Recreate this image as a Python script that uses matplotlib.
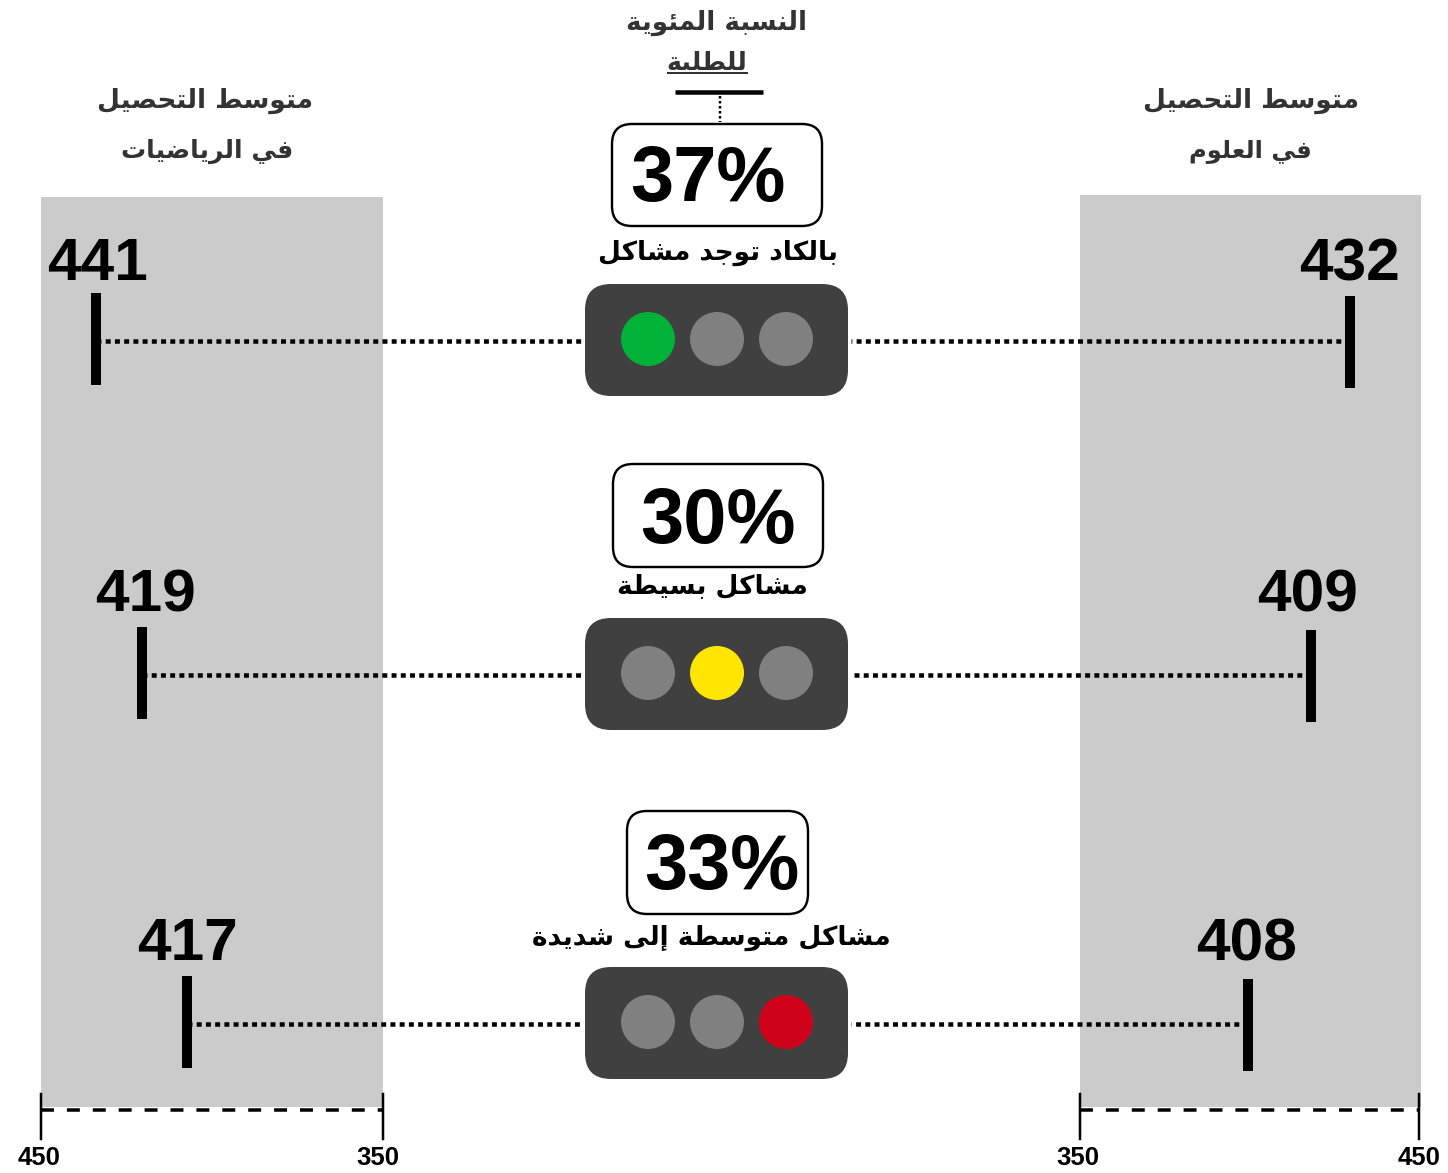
import matplotlib
matplotlib.use("Agg")
import matplotlib.pyplot as plt
from matplotlib.patches import FancyBboxPatch, Circle

# ---- data ----
math_labels = [441, 419, 417]
science_labels = [432, 409, 408]
# where the marks actually sit on each panel's 350-450 scale
math_mark_pos = [433.9, 420.5, 407.3]
science_mark_pos = [429.1, 417.6, 399.4]
percent_labels = ["37%", "30%", "33%"]
level_names = ["بالكاد توجد مشاكل", "مشاكل بسيطة", "مشاكل متوسطة إلى شديدة"]
active_light = [0, 1, 2]
light_colors = ["#00B336", "#FFE600", "#D0021B"]
scale_ticks = [450, 350]
header_center = ["النسبة المئوية", "للطلبة"]
header_math = ["متوسط التحصيل", "في الرياضيات"]
header_science = ["متوسط التحصيل", "في العلوم"]

# ---- Arabic shaping (matplotlib has none): presentation forms in visual order ----
FORMS = {
    'ا': (0xFE8D, 0xFE8E), 'إ': (0xFE87, 0xFE88), 'د': (0xFEA9, 0xFEAA), 'ر': (0xFEAD, 0xFEAE),
    'و': (0xFEED, 0xFEEE), 'ى': (0xFEEF, 0xFEF0), 'ة': (0xFE93, 0xFE94),
    'ئ': (0xFE89, 0xFE8A, 0xFE8B, 0xFE8C), 'ب': (0xFE8F, 0xFE90, 0xFE91, 0xFE92),
    'ت': (0xFE95, 0xFE96, 0xFE97, 0xFE98), 'ج': (0xFE9D, 0xFE9E, 0xFE9F, 0xFEA0),
    'ح': (0xFEA1, 0xFEA2, 0xFEA3, 0xFEA4), 'س': (0xFEB1, 0xFEB2, 0xFEB3, 0xFEB4),
    'ش': (0xFEB5, 0xFEB6, 0xFEB7, 0xFEB8), 'ص': (0xFEB9, 0xFEBA, 0xFEBB, 0xFEBC),
    'ض': (0xFEBD, 0xFEBE, 0xFEBF, 0xFEC0), 'ط': (0xFEC1, 0xFEC2, 0xFEC3, 0xFEC4),
    'ع': (0xFEC9, 0xFECA, 0xFECB, 0xFECC), 'ف': (0xFED1, 0xFED2, 0xFED3, 0xFED4),
    'ك': (0xFED9, 0xFEDA, 0xFEDB, 0xFEDC), 'ل': (0xFEDD, 0xFEDE, 0xFEDF, 0xFEE0),
    'م': (0xFEE1, 0xFEE2, 0xFEE3, 0xFEE4), 'ن': (0xFEE5, 0xFEE6, 0xFEE7, 0xFEE8),
    'ي': (0xFEF1, 0xFEF2, 0xFEF3, 0xFEF4),
}


def shape(text):
    out = []
    for i, ch in enumerate(text):
        if ch not in FORMS:
            out.append(ch)
            continue
        f = FORMS[ch]
        prev = text[i - 1] if i > 0 else ' '
        nxt = text[i + 1] if i + 1 < len(text) else ' '
        joins_prev = prev in FORMS and len(FORMS[prev]) == 4
        joins_next = len(f) == 4 and nxt in FORMS
        if joins_prev and joins_next:
            c = f[3]
        elif joins_prev:
            c = f[1]
        elif joins_next:
            c = f[2]
        else:
            c = f[0]
        out.append(chr(c))
    return ''.join(reversed(out))


W, H = 1448, 1173
fig = plt.figure(figsize=(W / 100, H / 100), dpi=100, facecolor='white')
px = 72 / 100  # points per pixel


def panel_axes(x0, x1, y0, y1, xlim, color):
    ax = fig.add_axes([x0 / W, 1 - y1 / H, (x1 - x0) / W, (y1 - y0) / H])
    ax.set_xlim(*xlim)
    ax.set_ylim(y1, y0)
    ax.set_facecolor(color)
    for s in ax.spines.values():
        s.set_visible(False)
    ax.set_xticks([])
    ax.set_yticks([])
    return ax


ax = fig.add_axes([0, 0, 1, 1], zorder=3)
ax.set_xlim(0, W)
ax.set_ylim(H, 0)
ax.axis('off')

ax_m = panel_axes(41, 383, 197, 1107, (450, 350), '#CBCBCB')
ax_s = panel_axes(1080, 1421, 195, 1107, (350, 450), '#CBCBCB')

AR = 'DejaVu Sans'
NUM = 'Liberation Sans'
mid = ax.transData.inverted()


def to_main(axis, v):
    return mid.transform(axis.transData.transform((v, 0)))[0]


rows_y = [341, 675, 1024]
light_y = [284, 618, 967]
box_geo = [(612, 822, 124, 226, 708, 180), (613, 823, 464, 567, 718, 523), (627, 808, 811, 914, 722, 869)]
name_pos = [(718, 253), (712, 586), (711.5, 938)]
m_lbl = [(98, 265), (145, 596), (188, 944)]
s_lbl = [(1349, 265), (1308, 596), (1247, 945)]
m_off = [293, 627, 976]
s_off = [296, 630, 979]
dot = dict(color='black', lw=4.5 * px, linestyle=(0, (1.1, 0.95)), zorder=2)

for i in range(3):
    y = rows_y[i]
    # marks and connectors
    for axis, vals, tops, lbls, labels, end in (
        (ax_m, math_mark_pos, m_off, m_lbl, math_labels, 582),
        (ax_s, science_mark_pos, s_off, s_lbl, science_labels, 851),
    ):
        xm = to_main(axis, vals[i])
        ax.plot([xm, xm], [tops[i], tops[i] + 92], color='black', lw=10 * px, solid_capstyle='butt', zorder=2)
        ax.plot([xm, end], [y, y], **dot)
        ax.text(lbls[i][0], lbls[i][1], str(labels[i]), family=NUM, weight='bold', fontsize=43.5,
                ha='center', va='center', color='black')
    # traffic light
    t = light_y[i]
    ax.add_patch(FancyBboxPatch((585 + 26, t + 26), 263 - 52, 112 - 52, boxstyle='round,pad=26,rounding_size=26',
                                fc='#404040', ec='none', zorder=3))
    for k, cx in enumerate((648, 717, 786)):
        col = light_colors[i] if k == active_light[i] else '#808080'
        ax.add_patch(Circle((cx, t + 55), 27, fc=col, ec='none', zorder=4))
    # percentage box
    x0, x1, y0, y1, tx, ty = box_geo[i]
    ax.add_patch(FancyBboxPatch((x0 + 20, y0 + 20), x1 - x0 - 40, y1 - y0 - 40, boxstyle='round,pad=20,rounding_size=20',
                                fc='white', ec='black', lw=2.4 * px, zorder=3))
    ax.text(tx, ty, percent_labels[i], family=NUM, weight='bold', fontsize=56, ha='center', va='center',
            color='black', zorder=5)
    ax.text(name_pos[i][0], name_pos[i][1], shape(level_names[i]), family=AR, weight='bold', fontsize=19,
            ha='center', va='center', color='black', zorder=5)

# scales under the panels
for axis, x_a, x_b, ticks in ((ax_m, 41, 383, scale_ticks), (ax_s, 1080, 1419, scale_ticks[::-1])):
    ax.plot([x_a, x_b], [1110, 1110], color='black', lw=3.5 * px, linestyle=(0, (3.7, 3.7)), zorder=2)
    ax.plot([x_a, x_a], [1094, 1139], color='black', lw=2.5 * px, zorder=2)
    ax.plot([x_b, x_b], [1094, 1139], color='black', lw=2.5 * px, zorder=2)
    ax.text(x_a - 2, 1158, str(ticks[0]), family=NUM, weight='bold', fontsize=18.5, ha='center', va='center')
    ax.text(x_b - 5 if axis is ax_m else x_b, 1158, str(ticks[1]), family=NUM, weight='bold', fontsize=18.5, ha='center', va='center')

# headers
HC = '#333333'
ax.text(717, 23, shape(header_center[0]), family=AR, weight='bold', fontsize=18.8, ha='center', va='center', color=HC)
ax.text(707, 63, shape(header_center[1]), family=AR, weight='bold', fontsize=18.3, ha='center', va='center', color=HC)
ax.plot([668, 747], [73, 73], color=HC, lw=2 * px)
ax.plot([675, 763], [91.5, 91.5], color='black', lw=4.5 * px, solid_capstyle='butt')
ax.plot([720, 720], [96, 122], color='black', lw=2.5 * px, linestyle=(0, (1, 1)))
for lines, cx, cx2, size2 in ((header_math, 205, 207, 18), (header_science, 1251, 1250, 17.5)):
    ax.text(cx, 101, shape(lines[0]), family=AR, weight='bold', fontsize=19, ha='center', va='center', color=HC)
    ax.text(cx2, 151, shape(lines[1]), family=AR, weight='bold', fontsize=size2, ha='center', va='center', color=HC)

fig.savefig('out.png', dpi=100)
